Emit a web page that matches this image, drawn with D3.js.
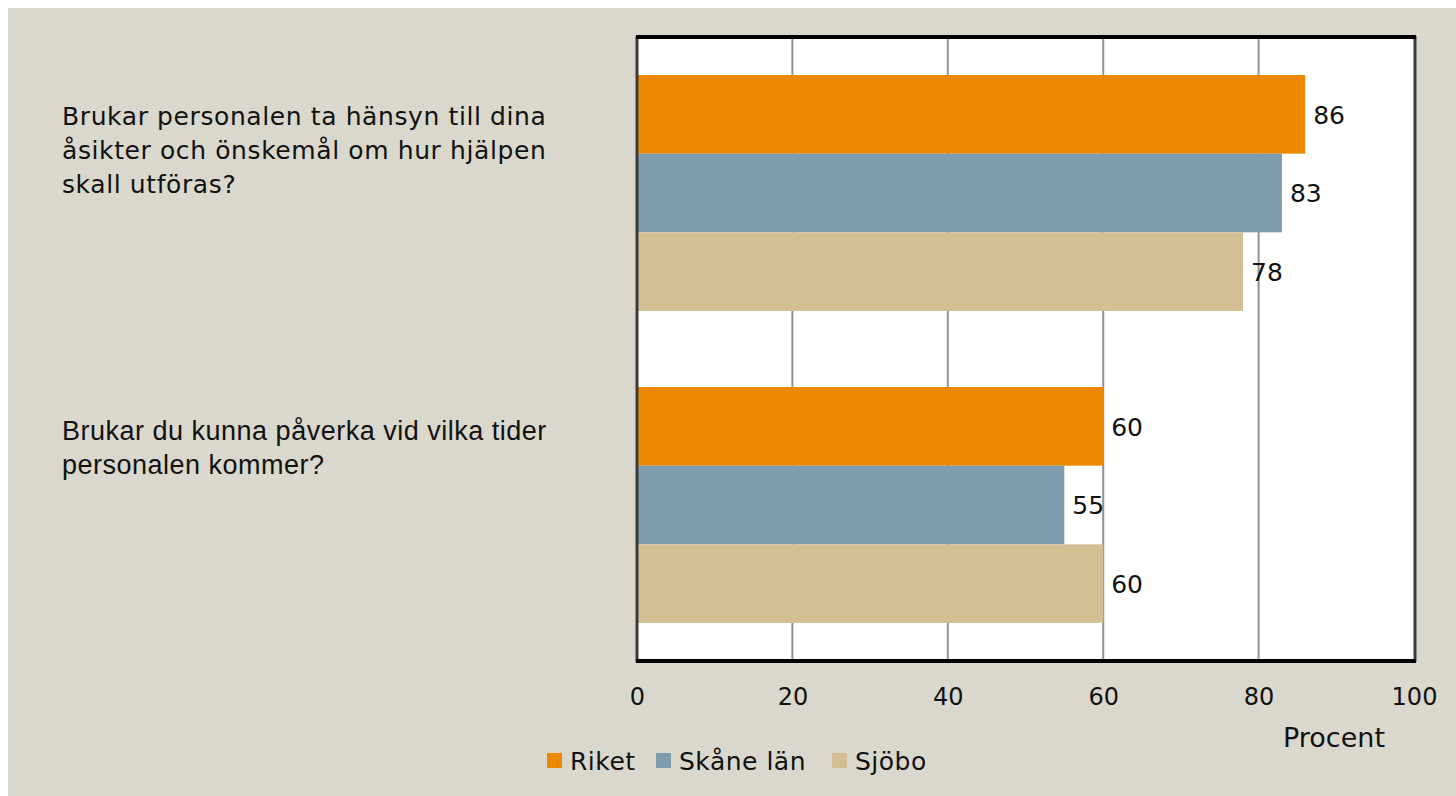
<!DOCTYPE html>
<html>
<head>
<meta charset="utf-8">
<script src="https://cdn.jsdelivr.net/npm/d3@7"></script>
<style>
  body { margin: 0; background: #fff; }
  svg { display: block; }
</style>
</head>
<body>
<div id="chart"></div>
<script>
'use strict';

// data
var questions = [
  ["Brukar personalen ta hänsyn till dina", "åsikter och önskemål om hur hjälpen", "skall utföras?"],
  ["Brukar du kunna påverka vid vilka tider", "personalen kommer?"]
];
var seriesNames = ["Riket", "Skåne län", "Sjöbo"];
var riket = [86, 60];
var skane = [83, 55];
var sjobo = [78, 60];
var xTicks = [0, 20, 40, 60, 80, 100];
var colors = ["#EB8A00", "#7F9BAE", "#D4BF95"];

var W = 1456, H = 796;
var margin = {top: 37, right: 42, bottom: 134, left: 637};
var width = 1414 - margin.left,
    height = 661 - margin.top;
var font = "'DejaVu Sans', sans-serif";

var svg = d3.select("#chart").append("svg")
  .attr("width", W)
  .attr("height", H);

svg.append("rect")
  .attr("x", 8).attr("y", 8)
  .attr("width", W - 8).attr("height", H - 8)
  .attr("fill", "#DAD8CC");

var g = svg.append("g")
  .attr("transform", "translate(" + margin.left + "," + margin.top + ")");

var x = d3.scaleLinear().domain([0, 100]).range([0, width]);
var y0 = d3.scaleBand().domain(d3.range(questions.length)).range([0, height]);
var y1 = d3.scaleBand().domain(d3.range(seriesNames.length)).range([38, y0.bandwidth() - 38]);

// plot background
g.append("rect").attr("width", width).attr("height", height).attr("fill", "#fff");

// gridlines
g.append("g").selectAll("line")
  .data(xTicks.slice(1, -1))
  .enter().append("line")
    .attr("x1", d => x(d)).attr("x2", d => x(d))
    .attr("y1", 0).attr("y2", height)
    .attr("stroke", "#939393").attr("stroke-width", 2);

// bars + value labels
var allSeries = [riket, skane, sjobo];
questions.forEach(function(q, i) {
  var rows = allSeries.map(function(s, j) { return {j: j, v: s[i]}; });
  var grp = g.append("g").attr("transform", "translate(0," + y0(i) + ")");
  grp.selectAll("rect")
    .data(rows)
    .enter().append("rect")
      .attr("x", 0)
      .attr("y", d => y1(d.j))
      .attr("width", d => x(d.v))
      .attr("height", y1.bandwidth())
      .attr("fill", d => colors[d.j]);
  grp.selectAll("text")
    .data(rows)
    .enter().append("text")
      .attr("x", d => x(d.v) + 8)
      .attr("y", d => y1(d.j) + y1.bandwidth() / 2)
      .attr("dy", "0.37em")
      .attr("font-family", font)
      .attr("font-size", 25)
      .attr("fill", "#111")
      .text(d => d.v);
});

// frame: dark sides, black top/bottom
g.append("line").attr("x1", 0).attr("x2", 0).attr("y1", -1).attr("y2", height + 1)
  .attr("stroke", "#3a3a3a").attr("stroke-width", 3);
g.append("line").attr("x1", width + 1).attr("x2", width + 1).attr("y1", -1).attr("y2", height + 1)
  .attr("stroke", "#3a3a3a").attr("stroke-width", 3);
g.append("line").attr("x1", -1).attr("x2", width + 2).attr("y1", 0).attr("y2", 0)
  .attr("stroke", "#000").attr("stroke-width", 4);
g.append("line").attr("x1", -1).attr("x2", width + 2).attr("y1", height).attr("y2", height)
  .attr("stroke", "#000").attr("stroke-width", 4);

// x axis labels
var xAxis = g.append("g")
  .attr("transform", "translate(0," + height + ")")
  .call(d3.axisBottom(x).tickValues(xTicks).tickSize(0).tickPadding(27));
xAxis.select(".domain").remove();
xAxis.selectAll("text")
  .attr("font-family", font)
  .attr("font-size", 24)
  .attr("fill", "#111");

svg.append("text")
  .attr("x", 1334).attr("y", 747)
  .attr("text-anchor", "middle")
  .attr("font-family", font)
  .attr("font-size", 27)
  .attr("fill", "#111")
  .text("Procent");

// category labels
var labelTop = [116, 430];
var labelFonts = [font, "'Liberation Sans', Arial, sans-serif"];
var labelSizes = [25, 27];
var labelSpacing = [0.6, 0.5];
questions.forEach(function(lines, i) {
  var t = svg.append("text")
    .attr("x", 62)
    .attr("font-family", labelFonts[i])
    .attr("font-size", labelSizes[i])
    .attr("letter-spacing", labelSpacing[i])
    .attr("fill", "#111");
  lines.forEach(function(l, k) {
    t.append("tspan").attr("x", 62).attr("y", labelTop[i] + k * 34).attr("dy", "0.36em").text(l);
  });
});

// legend
var legendX = [547, 656, 832];
var legend = svg.append("g");
seriesNames.forEach(function(n, i) {
  legend.append("rect")
    .attr("x", legendX[i]).attr("y", 753)
    .attr("width", 15).attr("height", 15)
    .attr("fill", colors[i]);
  legend.append("text")
    .attr("x", legendX[i] + 23).attr("y", 761)
    .attr("dy", "0.36em")
    .attr("font-family", font)
    .attr("font-size", 25)
    .attr("letter-spacing", 0.5)
    .attr("fill", "#111")
    .text(n);
});
</script>
</body>
</html>
